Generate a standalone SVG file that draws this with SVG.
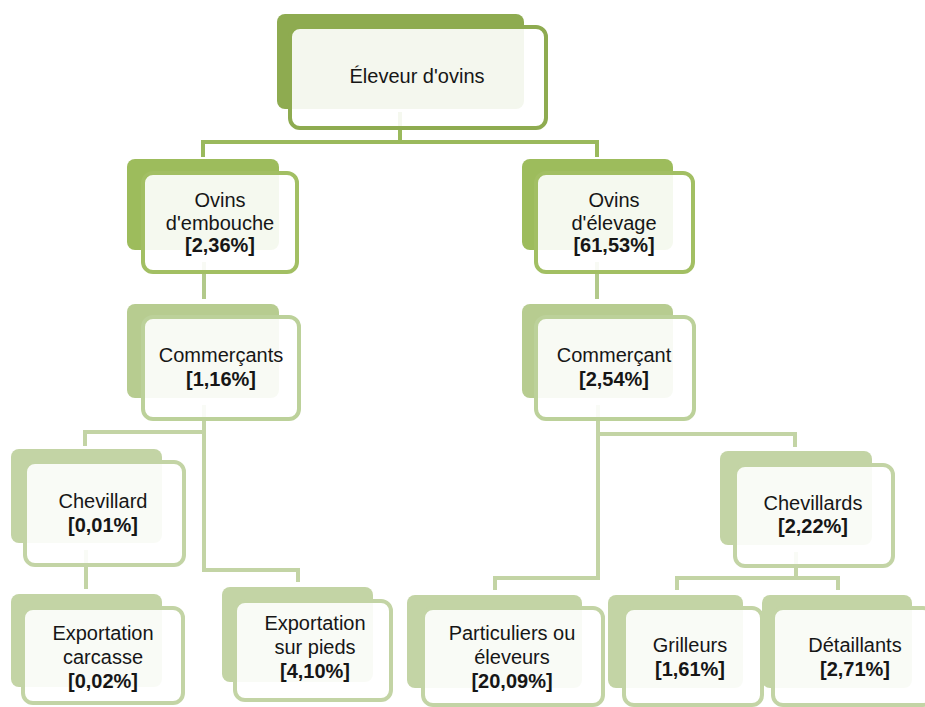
<svg xmlns="http://www.w3.org/2000/svg" width="925" height="707" viewBox="0 0 925 707">
<style>
text{font-family:"Liberation Sans",Arial,sans-serif;font-size:20px;fill:#161616;text-anchor:middle}
.b{font-weight:bold}
.fr{fill:#ffffff;fill-opacity:0.9;stroke-width:4}
.c{fill:none;stroke-width:4;stroke-linejoin:miter;stroke-linecap:butt}
.l0b{fill:#8eab50}.l0s{stroke:#8eab50}
.l1b{fill:#9dbc5c}.l1s{stroke:#a2bf63}
.l2b{fill:#b7cc90}.l2s{stroke:#bcd19a}
.l3b{fill:#c3d4a5}.l3s{stroke:#c3d4a5}
</style>
<rect width="925" height="707" fill="#ffffff"/>
<g id="connectors">
<path class="c" stroke="#9ab95c" d="M400,112 V142 M203,157 V142 H597 V157"/>
<path class="c" stroke="#b2c98a" d="M204,262 V299 M597,262 V299"/>
<path class="c" stroke="#c3d4a5" d="M204,405 V570 H298 V582 M85,446 V432 H204"/>
<path class="c" stroke="#c3d4a5" d="M598,405 V578 H495 V590 M598,434 H795 V447"/>
<path class="c" stroke="#c3d4a5" d="M86,550 V589"/>
<path class="c" stroke="#c3d4a5" d="M796,552 V578 M677,590 V578 H838 V590"/>
</g>
<g id="n-eleveur">
<rect class="l0b" x="277" y="14" width="247" height="95" rx="8"/>
<rect class="fr l0s" x="290" y="27" width="256" height="101" rx="10"/>
<text x="417" y="83">Éleveur d'ovins</text>
</g>
<g id="n-embouche">
<rect class="l1b" x="127" y="159" width="152" height="91" rx="8"/>
<rect class="fr l1s" x="143" y="173" width="154" height="99" rx="10"/>
<text x="220" y="207">Ovins</text>
<text x="220" y="230">d'embouche</text>
<text class="b" x="220" y="252">[2,36%]</text>
</g>
<g id="n-elevage">
<rect class="l1b" x="522" y="159" width="151" height="91" rx="8"/>
<rect class="fr l1s" x="536" y="173" width="157" height="99" rx="10"/>
<text x="614" y="207">Ovins</text>
<text x="614" y="230">d'élevage</text>
<text class="b" x="614" y="252">[61,53%]</text>
</g>
<g id="n-commercants">
<rect class="l2b" x="127" y="304" width="152" height="94" rx="8"/>
<rect class="fr l2s" x="143" y="317" width="156" height="102" rx="10"/>
<text x="221" y="362">Commerçants</text>
<text class="b" x="221" y="386">[1,16%]</text>
</g>
<g id="n-commercant">
<rect class="l2b" x="522" y="304" width="151" height="94" rx="8"/>
<rect class="fr l2s" x="536" y="317" width="158" height="102" rx="10"/>
<text x="614" y="362">Commerçant</text>
<text class="b" x="614" y="386">[2,54%]</text>
</g>
<g id="n-chevillard">
<rect class="l3b" x="11" y="449" width="151" height="94" rx="8"/>
<rect class="fr l3s" x="25" y="462" width="159" height="103" rx="10"/>
<text x="103" y="508">Chevillard</text>
<text class="b" x="103" y="532">[0,01%]</text>
</g>
<g id="n-chevillards">
<rect class="l3b" x="720" y="451" width="152" height="94" rx="8"/>
<rect class="fr l3s" x="735" y="465" width="158" height="101" rx="10"/>
<text x="813" y="510">Chevillards</text>
<text class="b" x="813" y="533">[2,22%]</text>
</g>
<g id="n-carcasse">
<rect class="l3b" x="11" y="594" width="151" height="93" rx="8"/>
<rect class="fr l3s" x="23" y="608" width="160" height="95" rx="10"/>
<text x="103" y="640">Exportation</text>
<text x="103" y="664">carcasse</text>
<text class="b" x="103" y="688">[0,02%]</text>
</g>
<g id="n-pieds">
<rect class="l3b" x="222" y="587" width="151" height="95" rx="8"/>
<rect class="fr l3s" x="235" y="601" width="156" height="99" rx="10"/>
<text x="315" y="630">Exportation</text>
<text x="315" y="654">sur pieds</text>
<text class="b" x="315" y="678">[4,10%]</text>
</g>
<g id="n-particuliers">
<rect class="l3b" x="407" y="595" width="175" height="93" rx="8"/>
<rect class="fr l3s" x="423" y="608" width="180" height="97" rx="10"/>
<text x="512" y="640">Particuliers ou</text>
<text x="512" y="664">éleveurs</text>
<text class="b" x="512" y="688">[20,09%]</text>
</g>
<g id="n-grilleurs">
<rect class="l3b" x="608" y="595" width="135" height="93" rx="8"/>
<rect class="fr l3s" x="624" y="608" width="138" height="97" rx="10"/>
<text x="690" y="652">Grilleurs</text>
<text class="b" x="690" y="676">[1,61%]</text>
</g>
<g id="n-detaillants">
<rect class="l3b" x="762" y="595" width="150" height="93" rx="8"/>
<rect class="fr l3s" x="773" y="608" width="160" height="97" rx="10"/>
<text x="855" y="652">Détaillants</text>
<text class="b" x="855" y="676">[2,71%]</text>
</g>
</svg>
